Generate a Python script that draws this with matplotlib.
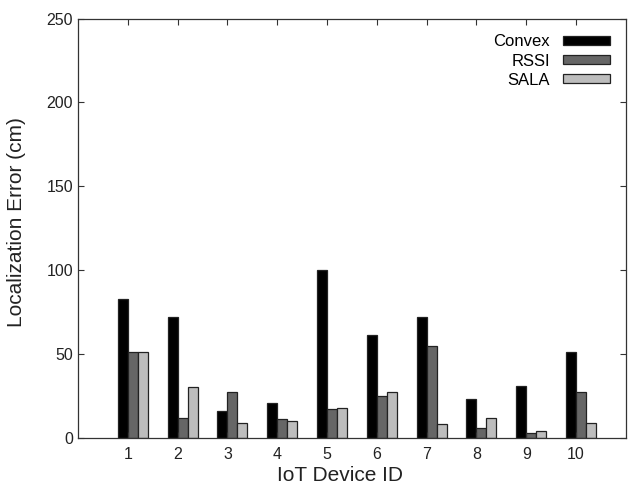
import matplotlib.pyplot as plt
import numpy as np

plt.rcParams['font.family'] = ['Liberation Sans', 'DejaVu Sans']

device_ids = [1, 2, 3, 4, 5, 6, 7, 8, 9, 10]
convex = [83, 72, 16, 21, 100, 61, 72, 23, 31, 51]
rssi = [51, 12, 27, 11, 17, 25, 55, 6, 3, 27]
sala = [51, 30, 9, 10, 18, 27, 8, 12, 4, 9]

series = [('Convex', convex, '#000000'),
          ('RSSI', rssi, '#666666'),
          ('SALA', sala, '#bdbdbd')]


def main():
    fig = plt.figure(figsize=(6.29, 4.88), dpi=100)
    ax = fig.add_axes([0.124, 0.103, 0.871, 0.859])

    x = np.array(device_ids, dtype=float)
    width = 0.2
    offsets = [-0.1, 0.1, 0.3]
    for (name, vals, color), off in zip(series, offsets):
        ax.bar(x + off, vals, width, color=color, edgecolor='#222222',
               linewidth=0.9, label=name)

    ax.set_xlim(0, 11)
    ax.set_ylim(0, 250)
    ax.set_xticks(device_ids)
    ax.set_yticks(np.arange(0, 251, 50))
    ax.tick_params(direction='in', top=True, right=True, labelsize=11.5,
                   length=4, width=0.8, colors='#333333', labelcolor='#222222')
    ax.tick_params(axis='x', pad=7)
    for s in ax.spines.values():
        s.set_color('#333333')
        s.set_linewidth(0.9)

    ax.set_xlabel('IoT Device ID', fontsize=15, color='#222222')
    ax.set_ylabel('Localization Error (cm)', fontsize=15, color='#222222')
    ax.xaxis.set_label_coords(0.478, -0.068)
    ax.yaxis.set_label_coords(-0.094, 0.515)

    ax.legend(loc='upper right', frameon=False, markerfirst=False, fontsize=12,
              handlelength=2.8, handleheight=0.45, labelspacing=0.25,
              handletextpad=0.8, borderaxespad=0.55)

    fig.savefig('out.png', dpi=100)


if __name__ == '__main__':
    main()
